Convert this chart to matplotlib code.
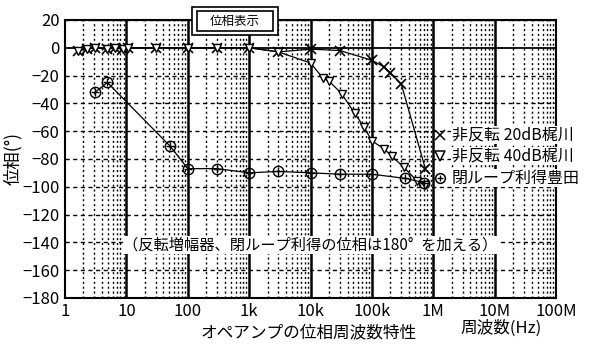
import matplotlib
matplotlib.use('Agg')
from matplotlib import pyplot as plt
from matplotlib.patches import Rectangle
import numpy as np

plt.rcParams['font.family'] = ['Noto Sans CJK JP', 'DejaVu Sans']

# non-inverting 20dB
f_20db = [1.6, 2.3, 3.1, 4.9, 6.6, 8.9, 10.8, 30, 100, 300, 1e3, 3e3, 1e4, 3e4, 1e5, 1.6e5, 2e5, 3e5, 7.4e5]
p_20db = [-2, -1, 0, -1, 0, -1, 0, 0, 0, 0, 0, -3, -1, -2, -9, -14, -18, -26, -87]

# non-inverting 40dB
f_40db = [1.6, 2.3, 3.1, 4.9, 6.6, 8.9, 10.8, 30, 100, 300, 1e3, 3e3, 1e4, 1.6e4, 2e4, 3.2e4, 5.2e4, 7.4e4, 1e5, 1.6e5, 2.1e5, 3.3e5, 5.5e5, 7.4e5]
p_40db = [-2, -1, 0, -1, 0, -1, 0, 0, 0, 0, 0, -3, -11, -22, -24, -33, -47, -57, -67, -73, -78, -86, -96, -99]

# closed loop gain
f_cl = [3.1, 4.9, 52, 100, 300, 1e3, 3e3, 1e4, 3e4, 1e5, 3.5e5, 7e5]
p_cl = [-32, -25, -71, -87, -87, -90, -89, -90, -91, -91, -94, -97]

xticks = [1, 10, 100, 1e3, 1e4, 1e5, 1e6, 1e7, 1e8]
xlabels = ['1', '10', '100', '1k', '10k', '100k', '1M', '10M', '100M']
yticks = list(range(20, -181, -20))
ylabels = ['20', '0'] + ['\u2212' + str(-v) for v in yticks[2:]]

fig = plt.figure(figsize=(5.91, 3.44), dpi=100)
ax = fig.add_axes([0.110, 0.134, 0.831, 0.808])
ax.set_xscale('log')
ax.set_xlim(1, 1e8)
ax.set_ylim(-180, 20)

# grid
for d in range(0, 8):
    for m in range(2, 10):
        ax.axvline(m * 10**d, color='black', lw=1.0, ls=(0, (1.5, 2.0)), zorder=1)
for d in range(1, 8):
    ax.axvline(10**d, color='black', lw=1.8, zorder=1)
for v in yticks:
    if v == 0:
        ax.axhline(v, color='black', lw=1.3, zorder=1)
    else:
        ax.axhline(v, color='black', lw=1.0, ls=(0, (3, 2.5)), zorder=1)

ax.plot(f_20db, p_20db, color='black', lw=0.9, marker='x', ms=7, mew=1.2,
        zorder=3, label='非反転 20dB梶川')
ax.plot(f_40db, p_40db, color='black', lw=0.9, marker='v', ms=6, mew=1.0,
        mfc='white', zorder=3, label='非反転 40dB梶川')
ax.plot(f_cl, p_cl, color='black', lw=0.9, marker='o', ms=7.5, mew=1.0,
        mfc='none', zorder=3, label='閉ループ利得豊田')
ax.plot(f_cl, p_cl, ls='none', marker='+', ms=6, mew=1.0, color='black', zorder=3)

ax.set_xticks(xticks)
ax.set_xticklabels(xlabels)
ax.set_xticks([], minor=True)
ax.set_yticks(yticks)
ax.set_yticklabels(ylabels)
ax.tick_params(length=0, labelsize=12, pad=4)
for s in ax.spines.values():
    s.set_linewidth(1.5)

# legend drawn as text
leg_y = [135, 156, 178]
leg_m = ['x', 'v', 'o']
leg_t = ['非反転 20dB梶川', '非反転 40dB梶川', '閉ループ利得豊田']
for yy, mk, tt in zip(leg_y, leg_m, leg_t):
    fy = 1 - yy / 344
    fig.lines.append(plt.Line2D([440 / 591], [fy], transform=fig.transFigure,
                                marker=mk, ms=7, mfc='white' if mk != 'x' else 'black',
                                mec='black', mew=1.1, ls='none', color='black'))
    if mk == 'o':
        fig.lines.append(plt.Line2D([440 / 591], [fy], transform=fig.transFigure,
                                    marker='+', ms=5, mew=1.0, ls='none', color='black'))
    fig.text(452 / 591, fy, tt, fontsize=11.5, va='center', ha='left',
             bbox=dict(facecolor='white', edgecolor='none', pad=0.5))

ax.text(0.5, 0.19, '（反転増幅器、閉ループ利得の位相は180°\u2002を加える）',
        transform=ax.transAxes, fontsize=11, ha='center', va='center',
        bbox=dict(facecolor='white', edgecolor='none', pad=0.5), zorder=5)

ax.set_ylabel('位相(°)', fontsize=12.5, labelpad=0)
fig.text(309 / 591, 1 - 333 / 344, 'オペアンプの位相周波数特性', fontsize=12,
         ha='center', va='center')
fig.text(501 / 591, 1 - 328 / 344, '周波数(Hz)', fontsize=12,
         ha='center', va='center')

# title box with double border
fig.patches.append(Rectangle((192 / 591, 1 - 35 / 344), 86 / 591, 28 / 344,
                             transform=fig.transFigure, facecolor='white',
                             edgecolor='black', lw=1.2, zorder=10))
fig.patches.append(Rectangle((197 / 591, 1 - 31 / 344), 76 / 591, 20 / 344,
                             transform=fig.transFigure, facecolor='white',
                             edgecolor='black', lw=1.2, zorder=11))
fig.text(235 / 591, 1 - 21 / 344, '位相表示', fontsize=9, ha='center',
         va='center', zorder=12)

fig.savefig('out.png', dpi=100)
